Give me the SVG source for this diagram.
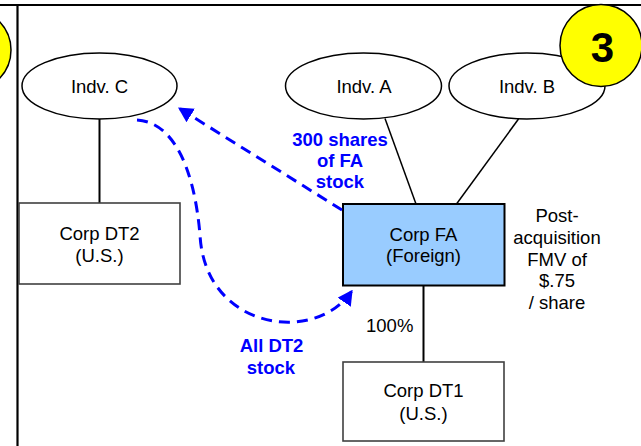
<svg xmlns="http://www.w3.org/2000/svg" width="641" height="446" viewBox="0 0 641 446">
<style>
text{font-family:"Liberation Sans",Arial,sans-serif;font-size:18.5px;fill:#000;text-anchor:middle}
.b{fill:#0000FF;font-weight:bold}
.ell{fill:#fff;stroke:#000;stroke-width:1.5}
.box{fill:#fff;stroke:#404040;stroke-width:1.6}
.fa{fill:#99CCFF;stroke:#000;stroke-width:2}
.ln{stroke:#000;fill:none}
.arr{stroke:#0000FF;stroke-width:3;fill:none;stroke-dasharray:11 7;marker-end:url(#ah)}
.yc{fill:#FFFF00;stroke:#000;stroke-width:1.5}
</style>
<defs>
<marker id="ah" viewBox="0 0 15 16" refX="13" refY="8" markerWidth="15" markerHeight="16" markerUnits="userSpaceOnUse" orient="auto">
<path d="M0,0 L15,8 L0,16 z" fill="#0000FF"/>
</marker>
</defs>
<rect width="641" height="446" fill="#fff"/>
<g id="frame">
<circle class="yc" cx="-30" cy="50" r="41"/>
<line class="ln" x1="0" y1="5" x2="641" y2="5" stroke-width="2.2"/>
<line class="ln" x1="17.5" y1="5" x2="17.5" y2="446" stroke-width="2.2"/>
</g>
<g id="connectors">
<line class="ln" x1="99.5" y1="119" x2="99.5" y2="203" stroke-width="2"/>
<line class="ln" x1="385" y1="118.5" x2="416" y2="204" stroke-width="1.5"/>
<line class="ln" x1="518.5" y1="119" x2="456.5" y2="204" stroke-width="1.5"/>
<line class="ln" x1="423.5" y1="286" x2="423.5" y2="362" stroke-width="2"/>
</g>
<g id="indvC"><ellipse class="ell" cx="99.5" cy="86" rx="77.5" ry="33"/><text x="99.5" y="92.7">Indv. C</text></g>
<g id="indvA"><ellipse class="ell" cx="363.5" cy="86" rx="78" ry="33"/><text x="364" y="92.7">Indv. A</text></g>
<g id="indvB"><ellipse class="ell" cx="527" cy="86" rx="78" ry="33"/><text x="527" y="92.7">Indv. B</text></g>
<g id="badge3"><circle class="yc" cx="601" cy="45.5" r="41"/><text x="602.5" y="62" style="font-size:42px;font-weight:bold">3</text></g>
<g id="corpDT2"><rect class="box" x="19" y="203" width="161" height="81"/><text x="99.5" y="239.5">Corp DT2</text><text x="99.5" y="261.5">(U.S.)</text></g>
<g id="corpFA"><rect class="fa" x="343" y="204" width="161.5" height="81.5"/><text x="423.5" y="240.5">Corp FA</text><text x="423.5" y="262">(Foreign)</text></g>
<g id="corpDT1"><rect class="box" x="343" y="362" width="161" height="79"/><text x="423.5" y="397.3">Corp DT1</text><text x="423.5" y="419.5">(U.S.)</text></g>
<g id="fmv"><text x="557" y="222">Post-</text><text x="557" y="244">acquisition</text><text x="557" y="265.5">FMV of</text><text x="557" y="287">$.75</text><text x="557" y="308.5">/ share</text></g>
<text x="389.7" y="331.5">100%</text>
<g id="arrows">
<path class="arr" d="M342,210 L179.7,108.6"/>
<path class="arr" d="M137,120 C172,122 194,165 200,235 C205,330 315,345 351.5,291.5"/>
</g>
<g id="arrowLabels">
<text class="b" x="340" y="145.7">300 shares</text><text class="b" x="340" y="167.3">of FA</text><text class="b" x="340" y="188.3">stock</text>
<text class="b" x="271.5" y="352.3">All DT2</text><text class="b" x="271" y="374.3">stock</text>
</g>
</svg>
